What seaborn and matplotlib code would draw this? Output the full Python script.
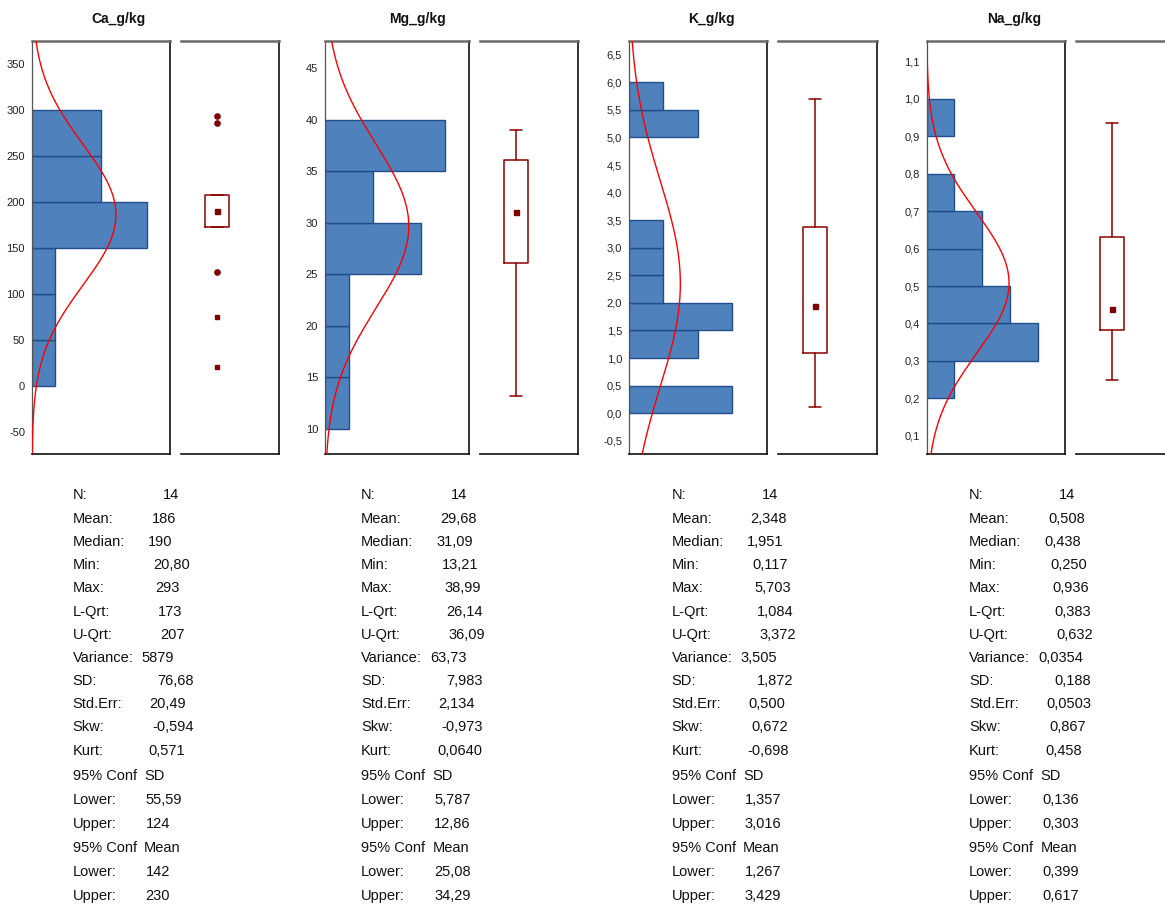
import numpy as np
import pandas as pd
import matplotlib
matplotlib.use("Agg")
import matplotlib.pyplot as plt
import seaborn as sns

# ---------------- data ----------------
variables = ["Ca_g/kg", "Mg_g/kg", "K_g/kg", "Na_g/kg"]

ca_edges = [0, 50, 100, 150, 200, 250, 300]
ca_counts = [1, 1, 1, 5, 3, 3]
mg_edges = [10, 15, 20, 25, 30, 35, 40]
mg_counts = [1, 1, 1, 4, 2, 5]
k_edges = [0, 0.5, 1.0, 1.5, 2.0, 2.5, 3.0, 3.5, 4.0, 4.5, 5.0, 5.5, 6.0]
k_counts = [3, 0, 2, 3, 1, 1, 1, 0, 0, 0, 2, 1]
na_edges = [0.2, 0.3, 0.4, 0.5, 0.6, 0.7, 0.8, 0.9, 1.0]
na_counts = [1, 4, 3, 2, 2, 1, 0, 1]

n_obs = [14, 14, 14, 14]
means = [186, 29.68, 2.348, 0.508]
medians = [190, 31.09, 1.951, 0.438]
mins = [20.80, 13.21, 0.117, 0.250]
maxs = [293, 38.99, 5.703, 0.936]
lqrt = [173, 26.14, 1.084, 0.383]
uqrt = [207, 36.09, 3.372, 0.632]
sds = [76.68, 7.983, 1.872, 0.188]

# Ca box plot: whiskers collapsed, outliers shown as points
ca_outliers_round = [293, 286, 124]
ca_outliers_square = [75, 20.8]

stat_labels = ["N:", "Mean:", "Median:", "Min:", "Max:", "L-Qrt:", "U-Qrt:",
               "Variance:", "SD:", "Std.Err:", "Skw:", "Kurt:",
               "95% Conf", "Lower:", "Upper:", "95% Conf", "Lower:", "Upper:"]
ca_stats = ["14", "186", "190", "20,80", "293", "173", "207", "5879", "76,68",
            "20,49", "-0,594", "0,571", "SD", "55,59", "124", "Mean", "142", "230"]
mg_stats = ["14", "29,68", "31,09", "13,21", "38,99", "26,14", "36,09", "63,73",
            "7,983", "2,134", "-0,973", "0,0640", "SD", "5,787", "12,86", "Mean",
            "25,08", "34,29"]
k_stats = ["14", "2,348", "1,951", "0,117", "5,703", "1,084", "3,372", "3,505",
           "1,872", "0,500", "0,672", "-0,698", "SD", "1,357", "3,016", "Mean",
           "1,267", "3,429"]
na_stats = ["14", "0,508", "0,438", "0,250", "0,936", "0,383", "0,632", "0,0354",
            "0,188", "0,0503", "0,867", "0,458", "SD", "0,136", "0,303", "Mean",
            "0,399", "0,617"]

y_ticks = [
    [-50, 0, 50, 100, 150, 200, 250, 300, 350],
    [10, 15, 20, 25, 30, 35, 40, 45],
    [-0.5, 0.0, 0.5, 1.0, 1.5, 2.0, 2.5, 3.0, 3.5, 4.0, 4.5, 5.0, 5.5, 6.0, 6.5],
    [0.1, 0.2, 0.3, 0.4, 0.5, 0.6, 0.7, 0.8, 0.9, 1.0, 1.1],
]
tick_fmt = ["{:.0f}", "{:.0f}", "{:.1f}", "{:.1f}"]

# ---------------- layout (pixels) ----------------
W, H = 1165, 905
TOP, BOT = 41, 454
hist_x = [(32, 170.3), (325, 468.7), (629, 766.7), (926.7, 1065.3)]
box_x = [(181, 279.3), (480, 577.7), (778.3, 876.7), (1076, 1174)]
ylims = [(-74.3, 375), (7.57, 47.65), (-0.74, 6.75), (0.051, 1.155)]
xlims = [6, 6, 4, 5]
title_x = [118, 417, 711.7, 1014.5]
label_x = [72.7, 361, 671.7, 969]
row_y = [495, 519, 542, 565, 588.5, 611.7, 635, 657.7, 681.3, 704, 727.3, 750.7,
         776, 800, 824, 848, 871.7, 896]
val_off = [90, 79, 75, 81, 83, 85, 87.5, 69, 85, 77, 80, 76, 71.5, 73, 73, 71.5, 73, 73]

HIST_FACE = "#4f81bd"
HIST_EDGE = "#1f4e8a"
BOX_COL = "#8b0000"

sns.set_theme(style="white")
plt.rcParams["font.family"] = ["Liberation Sans", "DejaVu Sans"]

fig = plt.figure(figsize=(W / 100, H / 100), dpi=100)


def ax_px(x0, x1, y0, y1):
    return fig.add_axes([x0 / W, 1 - y1 / H, (x1 - x0) / W, (y1 - y0) / H])


all_edges = [ca_edges, mg_edges, k_edges, na_edges]
all_counts = [ca_counts, mg_counts, k_counts, na_counts]
all_stats = [ca_stats, mg_stats, k_stats, na_stats]

for i in range(4):
    edges = np.array(all_edges[i], dtype=float)
    counts = np.array(all_counts[i], dtype=float)
    centers = (edges[:-1] + edges[1:]) / 2
    bw = float(edges[1] - edges[0])
    df = pd.DataFrame({"value": centers, "count": counts})

    # ---- histogram panel ----
    ax = ax_px(hist_x[i][0], hist_x[i][1], TOP, BOT)
    sns.histplot(data=df, y="value", weights="count", binwidth=bw,
                 binrange=(float(edges[0]), float(edges[-1])), ax=ax,
                 color=HIST_FACE, edgecolor=HIST_EDGE, linewidth=1.0, alpha=1.0)
    for p in list(ax.patches):
        if p.get_width() == 0:
            p.remove()
    lo, hi = ylims[i]
    yy = np.linspace(lo, hi, 400)
    xx = n_obs[i] * bw * np.exp(-0.5 * ((yy - means[i]) / sds[i]) ** 2) / (sds[i] * np.sqrt(2 * np.pi))
    ax.plot(xx, yy, color="#ff0000", lw=1.0, zorder=5)
    ax.set_xlim(0, xlims[i])
    ax.set_ylim(lo, hi)
    ax.set_xlabel("")
    ax.set_ylabel("")
    ax.set_xticks([])
    ax.set_yticks(y_ticks[i])
    ax.set_yticklabels([tick_fmt[i].format(t).replace(".", ",") for t in y_ticks[i]])
    ax.tick_params(axis="y", length=0, pad=5, labelsize=8, labelcolor="#222222")
    for side in ["right", "bottom"]:
        ax.spines[side].set_color("#111111")
        ax.spines[side].set_linewidth(1.2)
    ax.spines["left"].set_color("#555555")
    ax.spines["left"].set_linewidth(0.9)
    ax.spines["top"].set_color("#6a6a6a")
    ax.spines["top"].set_linewidth(1.8)

    # ---- box panel ----
    bx = ax_px(box_x[i][0], box_x[i][1], TOP, BOT)
    if i == 0:
        wlo, whi = lqrt[i], uqrt[i]
    else:
        wlo, whi = mins[i], maxs[i]
    stats = [{"med": medians[i], "q1": lqrt[i], "q3": uqrt[i],
              "whislo": wlo, "whishi": whi, "fliers": []}]
    bx.bxp(stats, positions=[0.37], widths=0.245, showfliers=False,
           boxprops=dict(color=BOX_COL, linewidth=1.1),
           whiskerprops=dict(color=BOX_COL, linewidth=1.1),
           capprops=dict(color=BOX_COL, linewidth=1.1),
           medianprops=dict(linewidth=0))
    bx.plot([0.37], [medians[i]], marker="s", ms=3.6, color="#800000", ls="none")
    if i == 0:
        bx.plot([0.37] * len(ca_outliers_round), ca_outliers_round, marker="o", ms=3.8,
                color="#800000", ls="none")
        bx.plot([0.37] * len(ca_outliers_square), ca_outliers_square, marker="s", ms=2.5,
                color="#800000", ls="none")
    bx.set_xlim(0, 1)
    bx.set_ylim(lo, hi)
    bx.set_xticks([])
    bx.set_yticks([])
    bx.spines["left"].set_visible(False)
    for side in ["right", "bottom"]:
        bx.spines[side].set_color("#111111")
        bx.spines[side].set_linewidth(1.2)
    bx.spines["top"].set_color("#6a6a6a")
    bx.spines["top"].set_linewidth(1.8)

    # ---- title ----
    fig.text(title_x[i] / W, 1 - 19 / H, variables[i], ha="center", va="center",
             fontsize=10, fontweight="bold", color="#111111")

    # ---- statistics text ----
    for r, lab in enumerate(stat_labels):
        fig.text(label_x[i] / W, 1 - row_y[r] / H, lab, ha="left", va="center",
                 fontsize=10.5, color="#111111")
        fig.text((label_x[i] + val_off[r]) / W, 1 - row_y[r] / H, all_stats[i][r],
                 ha="left", va="center", fontsize=10.5, color="#111111")

fig.savefig("out.png", dpi=100)
